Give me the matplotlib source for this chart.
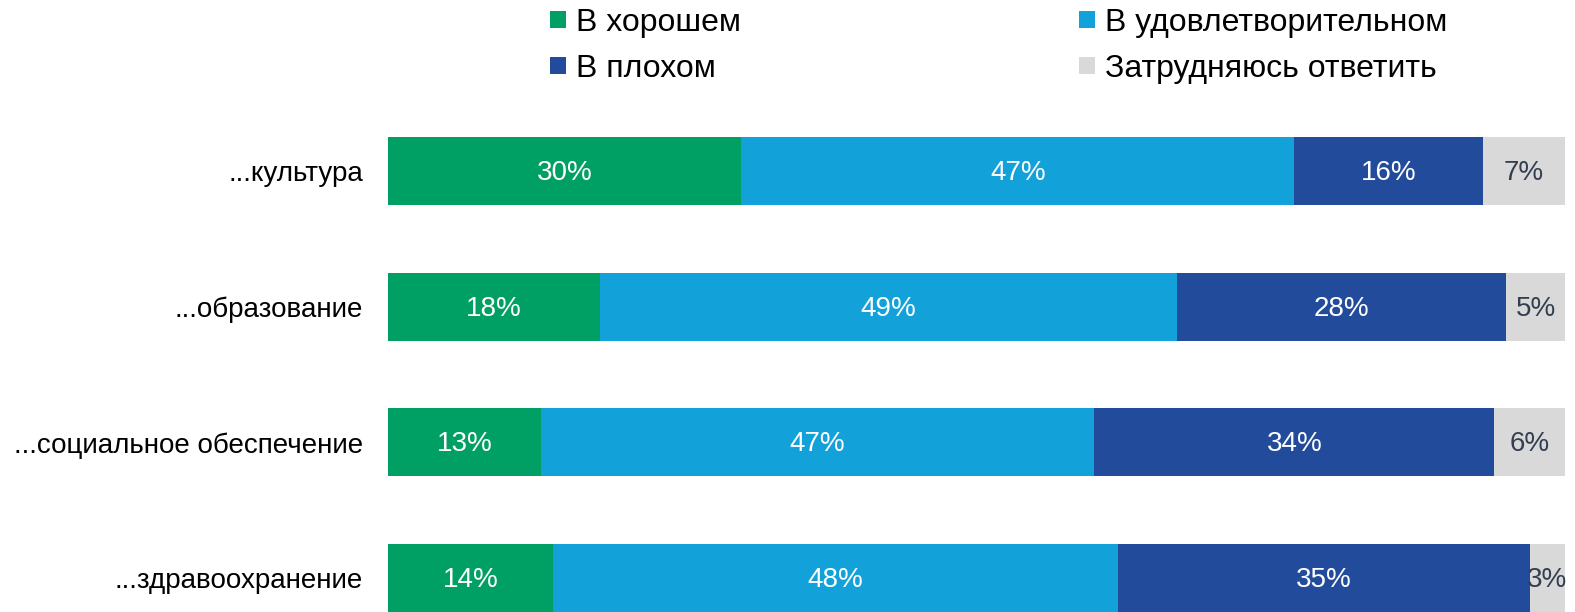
import matplotlib
matplotlib.use("Agg")
import matplotlib.pyplot as plt
import numpy as np

plt.rcParams['font.family'] = ['Liberation Sans', 'DejaVu Sans']

categories = ["...культура", "...образование", "...социальное обеспечение", "...здравоохранение"]
series_names = ["В хорошем", "В удовлетворительном", "В плохом", "Затрудняюсь ответить"]
good = [30, 18, 13, 14]
satisfactory = [47, 49, 47, 48]
bad = [16, 28, 34, 35]
hard = [7, 5, 6, 3]

colors = ["#00A064", "#13A1D9", "#234B9B", "#D9D9D9"]
text_colors = ["white", "white", "white", "#333F50"]

fig = plt.figure(figsize=(15.75, 6.12), dpi=100)
W, H = 1575, 612
ax = fig.add_axes([388 / W, 0, 1177 / W, 512 / H])

ypos = np.arange(len(categories))[::-1]  # first category on top
left = np.zeros(len(categories))
handles = []
for vals, name, col, tcol in zip([good, satisfactory, bad, hard], series_names, colors, text_colors):
    vals = np.array(vals, dtype=float)
    bars = ax.barh(ypos, vals, left=left, height=0.5, color=col, label=name, linewidth=0)
    handles.append(bars)
    for y, l, v in zip(ypos, left, vals):
        ax.text(l + v / 2, y - 0.015, f"{int(v)}%", ha="center", va="center", color=tcol, fontsize=20)
    left += vals

ax.set_xlim(0, 100)
unit = 135.7
ax.set_ylim(-34 / unit, 3 + 71 / unit)
ax.set_yticks(ypos)
ax.set_yticklabels(categories, fontsize=20)
ax.tick_params(axis="y", length=0, pad=18)
ax.set_xticks([])
for s in ax.spines.values():
    s.set_visible(False)

order = [0, 2, 1, 3]
leg = fig.legend([handles[i] for i in order], [series_names[i] for i in order],
                 ncol=2, loc="upper left", bbox_to_anchor=(550 / W, 1 - 8 / H),
                 frameon=False, fontsize=23, handlelength=0.5, handleheight=0.45,
                 handletextpad=0.3, columnspacing=10.6, labelspacing=0.5,
                 borderaxespad=0, borderpad=0)

fig.savefig("out.png", dpi=100)
